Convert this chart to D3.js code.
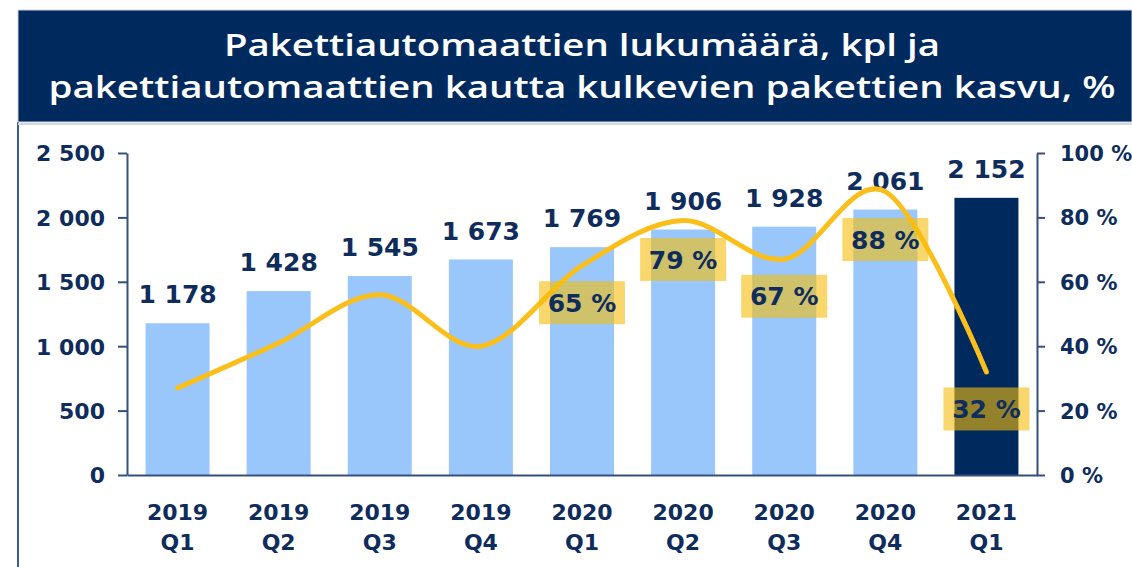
<!DOCTYPE html>
<html>
<head>
<meta charset="utf-8">
<script src="https://cdn.jsdelivr.net/npm/d3@7"></script>
<style>
  html, body { margin: 0; padding: 0; background: #ffffff; }
  svg { display: block; }
</style>
</head>
<body>
<svg id="chart" width="1132" height="567"></svg>
<script>
// ---- data ----
const titleLines = ["Pakettiautomaattien lukumäärä, kpl ja", "pakettiautomaattien kautta kulkevien pakettien kasvu, %"];
const years = ["2019", "2019", "2019", "2019", "2020", "2020", "2020", "2020", "2021"];
const quarters = ["Q1", "Q2", "Q3", "Q4", "Q1", "Q2", "Q3", "Q4", "Q1"];
const lockerCount = [1178, 1428, 1545, 1673, 1769, 1906, 1928, 2061, 2152];
const parcelGrowth = [27, 41, 56, 40, 65, 79, 67, 88, 32];
const growthLabelShown = [false, false, false, false, true, true, true, true, true];
const leftTicks = [0, 500, 1000, 1500, 2000, 2500];
const rightTicks = [0, 20, 40, 60, 80, 100];

const categories = years.map((y, i) => y + " " + quarters[i]);

// ---- style ----
const navy = "#002a5e";
const textNavy = "#0f2d5c";
const axisColor = "#34507c";
const barLight = "#99c7fc";
const barDark = "#002a5e";
const lineColor = "#fbbf1c";
const boxColor = "#f5bd0a";
const fontNum = "'DejaVu Sans', sans-serif";

const locale = d3.formatLocale({ decimal: ",", thousands: "\u00a0", grouping: [3], currency: ["", " €"] });
const fmt = locale.format(",");

const svg = d3.select("#chart");

// frame + title banner
svg.append("line").attr("x1", 18).attr("x2", 18).attr("y1", 122).attr("y2", 567)
  .attr("stroke", "#3f5d8a").attr("stroke-width", 2);
svg.append("rect").attr("x", 18).attr("y", 10).attr("width", 1132 - 18).attr("height", 112)
  .attr("fill", navy).attr("stroke", "#c9d1dc").attr("stroke-width", 1);
svg.append("line").attr("x1", 18).attr("x2", 1132).attr("y1", 124).attr("y2", 124)
  .attr("stroke", "#d3d9e2").attr("stroke-width", 2);

const titleWidths = [716, 1067];
const titleBase = [56, 98];
titleLines.forEach((t, i) => {
  svg.append("text")
    .attr("x", 582).attr("y", titleBase[i])
    .attr("text-anchor", "middle")
    .attr("fill", "#ffffff")
    .attr("font-family", "'Open Sans', sans-serif")
    .attr("font-weight", 600)
    .attr("font-size", 30)
    .attr("textLength", titleWidths[i])
    .attr("lengthAdjust", "spacingAndGlyphs")
    .text(t);
});

// scales
const x = d3.scaleBand().domain(categories).range([127, 1037]).paddingInner(0.367).paddingOuter(0.1835);
const y = d3.scaleLinear().domain([0, 2500]).range([475, 153]);
const y2 = d3.scaleLinear().domain([0, 100]).range([475, 153]);

// bars
svg.append("g").selectAll("rect").data(lockerCount).join("rect")
  .attr("x", (d, i) => x(categories[i]))
  .attr("y", d => y(d))
  .attr("width", x.bandwidth())
  .attr("height", d => y(0) - y(d))
  .attr("fill", (d, i) => i === lockerCount.length - 1 ? barDark : barLight);

// bar value labels
svg.append("g").selectAll("text").data(lockerCount).join("text")
  .attr("x", (d, i) => x(categories[i]) + x.bandwidth() / 2)
  .attr("y", d => y(d) - 20)
  .attr("text-anchor", "middle")
  .attr("fill", textNavy)
  .attr("font-family", fontNum)
  .attr("font-weight", "bold")
  .attr("font-size", 25)
  .text(d => fmt(d));

// axes
const axL = svg.append("g").attr("transform", "translate(127,0)")
  .call(d3.axisLeft(y).tickValues(leftTicks).tickSize(9).tickSizeOuter(0).tickPadding(13).tickFormat(fmt));
const axR = svg.append("g").attr("transform", "translate(1037,0)")
  .call(d3.axisRight(y2).tickValues(rightTicks).tickSize(8).tickSizeOuter(0).tickPadding(15).tickFormat(d => d + "\u00a0%"));
const axB = svg.append("g").attr("transform", "translate(0,475)")
  .call(d3.axisBottom(x).tickSize(0).tickSizeOuter(0).tickPadding(0).tickFormat(""));

[axL, axR, axB].forEach(g => {
  g.select(".domain").attr("stroke", axisColor).attr("stroke-width", 2);
  g.selectAll(".tick line").attr("stroke", axisColor).attr("stroke-width", 2);
  g.selectAll(".tick text")
    .attr("fill", textNavy)
    .attr("font-family", fontNum)
    .attr("font-weight", "bold");
});
axL.selectAll(".tick text").attr("font-size", 22).attr("dy", "0.36em");
axR.selectAll(".tick text").attr("font-size", 21).attr("dy", "0.36em");

// two-line category labels
axB.selectAll(".tick").each(function (d, i) {
  const t = d3.select(this).append("text")
    .attr("fill", textNavy)
    .attr("font-family", fontNum)
    .attr("font-weight", "bold")
    .attr("font-size", 22)
    .attr("text-anchor", "middle");
  t.append("tspan").attr("x", 0).attr("y", 45).text(years[i]);
  t.append("tspan").attr("x", 0).attr("y", 75).text(quarters[i]);
});

// growth line
const cx = i => x(categories[i]) + x.bandwidth() / 2;
const line = d3.line()
  .x((d, i) => cx(i))
  .y(d => y2(d))
  .curve(d3.curveCardinal.tension(0));
svg.append("path").datum(parcelGrowth)
  .attr("d", line)
  .attr("fill", "none")
  .attr("stroke", lineColor)
  .attr("stroke-width", 5)
  .attr("stroke-linecap", "round");

// growth labels in yellow boxes
const boxW = 86, boxH = 43;
const labelG = svg.append("g");
parcelGrowth.forEach((v, i) => {
  if (!growthLabelShown[i]) return;
  const cy = Math.max(y2(v) + 37, y(lockerCount[i]) + 30);
  labelG.append("rect")
    .attr("x", cx(i) - boxW / 2).attr("y", cy - boxH / 2)
    .attr("width", boxW).attr("height", boxH)
    .attr("fill", boxColor).attr("fill-opacity", 0.6);
  labelG.append("text")
    .attr("x", cx(i)).attr("y", cy)
    .attr("dy", "0.36em")
    .attr("text-anchor", "middle")
    .attr("fill", textNavy)
    .attr("font-family", fontNum)
    .attr("font-weight", "bold")
    .attr("font-size", 25)
    .text(v + "\u00a0%");
});
</script>
</body>
</html>
